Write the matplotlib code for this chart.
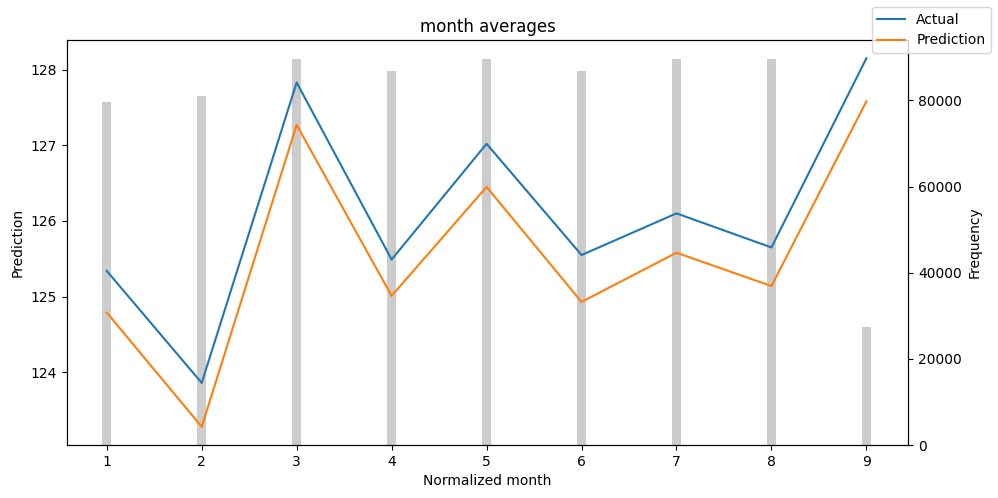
import numpy as np
import matplotlib.pyplot as plt

months = [1, 2, 3, 4, 5, 6, 7, 8, 9]
actual = [125.34, 123.86, 127.83, 125.49, 127.02, 125.55, 126.10, 125.65, 128.15]
prediction = [124.79, 123.28, 127.27, 125.01, 126.45, 124.93, 125.58, 125.14, 127.58]
frequency = [79550, 80940, 89550, 86760, 89550, 86760, 89550, 89550, 27450]

fig, ax = plt.subplots(figsize=(9.98, 4.98), dpi=100)
ax2 = ax.twinx()
ax2.bar(months, frequency, width=0.1, color="k", alpha=0.2)
ax2.set_ylabel("Frequency")
ax.set_zorder(ax2.get_zorder() + 1)
ax.patch.set_visible(False)

ax.plot(months, actual, label="Actual")
ax.plot(months, prediction, label="Prediction")
ax.set_xlim(0.58, 9.44)
ax.set_xlabel("Normalized month")
ax.set_ylabel("Prediction")
ax.set_title("month averages")
fig.legend()
fig.subplots_adjust(left=0.067, right=0.91, top=0.92, bottom=0.106)
fig.savefig("out.png")
plt.close(fig)
